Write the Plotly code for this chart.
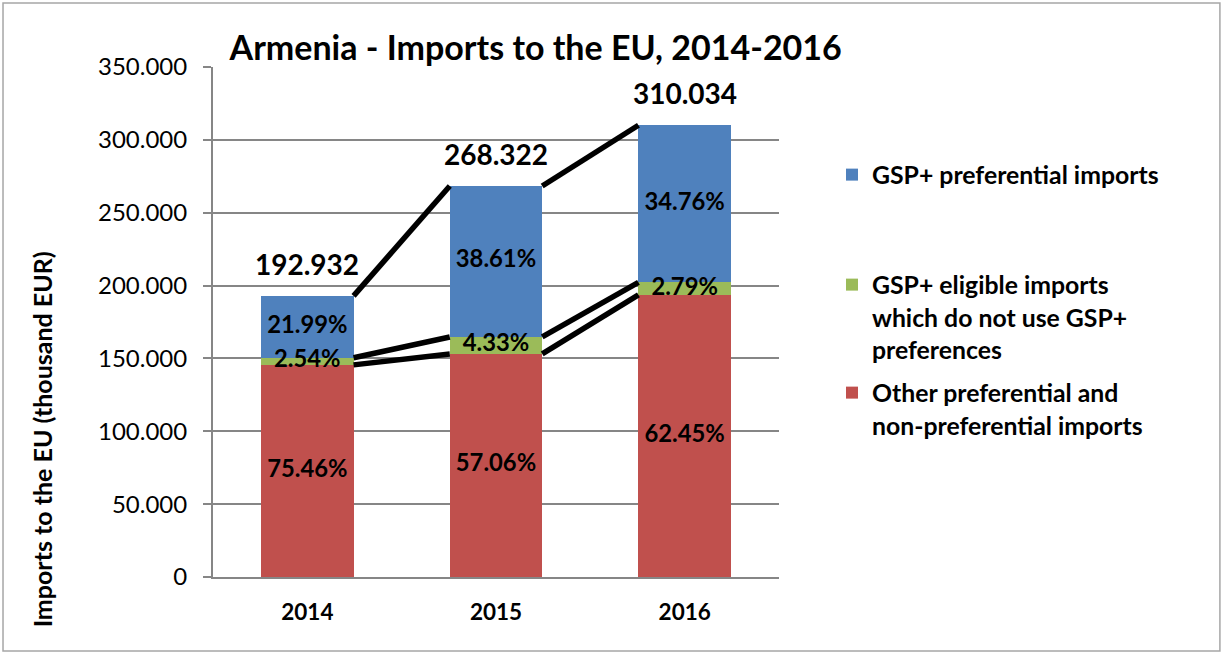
import plotly.graph_objects as go

years = ["2014", "2015", "2016"]
totals = [192932, 268322, 310034]
other_vals = [145587, 153105, 193616]
eligible_vals = [4901, 11618, 8650]
gsp_vals = [42426, 103599, 107768]
other_pct = ["75.46%", "57.06%", "62.45%"]
eligible_pct = ["2.54%", "4.33%", "2.79%"]
gsp_pct = ["21.99%", "38.61%", "34.76%"]
total_labels = ["192.932", "268.322", "310.034"]
y_ticks = [0, 50000, 100000, 150000, 200000, 250000, 300000, 350000]

C_BLUE = "#4F81BD"
C_GREEN = "#9BBB59"
C_RED = "#C0504D"
FONT = "Lato"
BW = 0.49

xs = list(range(len(years)))
fig = go.Figure()

fig.add_trace(go.Bar(x=xs, y=other_vals, width=BW, marker=dict(color=C_RED, line=dict(width=0)),
                     name="Other preferential and<br>non-preferential imports", legend="legend3",
                     hoverinfo="skip"))
fig.add_trace(go.Bar(x=xs, y=eligible_vals, width=BW, marker=dict(color=C_GREEN, line=dict(width=0)),
                     name="GSP+ eligible imports<br>which do not use GSP+<br>preferences", legend="legend2",
                     hoverinfo="skip"))
fig.add_trace(go.Bar(x=xs, y=gsp_vals, width=BW, marker=dict(color=C_BLUE, line=dict(width=0)),
                     name="GSP+ preferential imports", legend="legend", hoverinfo="skip"))

# series lines between stacked segments
lvl_red = other_vals
lvl_green = [o + e for o, e in zip(other_vals, eligible_vals)]
lvl_total = [o + e + g for o, e, g in zip(other_vals, eligible_vals, gsp_vals)]
for lvl in (lvl_red, lvl_green, lvl_total):
    lx, ly = [], []
    for i in range(len(xs) - 1):
        lx += [xs[i] + BW / 2, xs[i + 1] - BW / 2, None]
        ly += [lvl[i], lvl[i + 1], None]
    fig.add_trace(go.Scatter(x=lx, y=ly, mode="lines", line=dict(color="black", width=5.5),
                             showlegend=False, hoverinfo="skip"))

# percentage labels at segment middles
mid_red = [o / 2 for o in other_vals]
mid_green = [o + e / 2 for o, e in zip(other_vals, eligible_vals)]
mid_blue = [o + e + g / 2 for o, e, g in zip(other_vals, eligible_vals, gsp_vals)]
for mids, labels in ((mid_red, other_pct), (mid_green, eligible_pct), (mid_blue, gsp_pct)):
    fig.add_trace(go.Scatter(x=xs, y=mids, mode="text", text=labels, textposition="middle center",
                             textfont=dict(family=FONT, size=23.8, color="black", weight="bold"),
                             showlegend=False, hoverinfo="skip"))

for i, t in enumerate(totals):
    fig.add_annotation(x=xs[i], y=t, text=total_labels[i], showarrow=False, yanchor="bottom",
                       yshift=13, font=dict(family=FONT, size=28, color="black", weight="bold"))

fig.add_annotation(xref="paper", yref="paper", x=-0.302, y=0.27, text="Imports to the EU (thousand EUR)",
                   textangle=-90, showarrow=False, xanchor="center", yanchor="middle",
                   font=dict(family=FONT, size=25, color="black", weight="bold"))

fig.add_shape(type="rect", xref="paper", yref="paper", x0=-0.371, x1=1.779, y0=-0.145, y1=1.1255,
              line=dict(color="#A6A6A6", width=1.5), fillcolor="rgba(0,0,0,0)", layer="below")

LEG_FONT = dict(family=FONT, size=24.8, color="black", weight="bold")
fig.update_layout(
    width=1223, height=653,
    margin=dict(l=213, r=444, t=67, b=76),
    paper_bgcolor="white", plot_bgcolor="white",
    barmode="stack", bargap=0,
    separators=",.",
    title=dict(text="<b>Armenia - Imports to the EU, 2014-2016</b>", x=0.438, xanchor="center",
               y=1 - 48 / 653, yanchor="middle", xref="container", yref="container",
               font=dict(family=FONT, size=34, color="black")),
    font=dict(family=FONT, color="black"),
    xaxis=dict(range=[-0.5, 2.5], tickmode="array", tickvals=xs, ticktext=years, showgrid=False,
               zeroline=False, showline=True, linecolor="#868686", linewidth=2, ticks="",
               ticklabelstandoff=14,
               tickfont=dict(family=FONT, size=22.5, color="black", weight="bold")),
    yaxis=dict(range=[0, 350000], tickmode="array", tickvals=y_ticks, tickformat=",.0f",
               showgrid=True, gridcolor="#868686", gridwidth=1.5, zeroline=False,
               showline=True, linecolor="#868686", linewidth=2, ticks="outside", ticklen=8,
               tickcolor="#868686", tickwidth=1.5, ticklabelstandoff=11,
               tickfont=dict(family=FONT, size=24, color="black")),
    legend=dict(x=1.0936, y=(577 - 175) / 510, xanchor="left", yanchor="middle",
                font=LEG_FONT, bgcolor="rgba(0,0,0,0)", valign="top"),
    legend2=dict(x=1.0936, y=(577 - 262) / 510, xanchor="left", yanchor="top",
                 font=LEG_FONT, bgcolor="rgba(0,0,0,0)", valign="top"),
    legend3=dict(x=1.0936, y=(577 - 370) / 510, xanchor="left", yanchor="top",
                 font=LEG_FONT, bgcolor="rgba(0,0,0,0)", valign="top"),
    showlegend=True,
)

fig.write_html("out.html", config={"displayModeBar": False},
               post_script="document.body.style.margin='0';document.body.style.overflow='hidden';")
